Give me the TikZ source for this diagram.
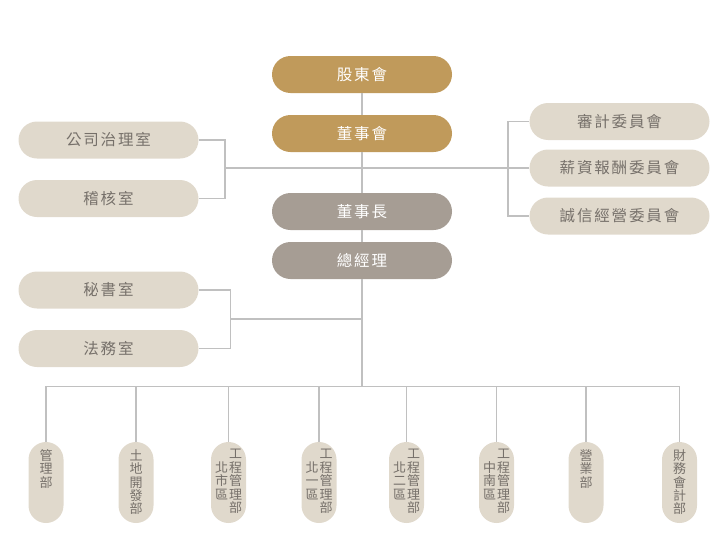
\documentclass[tikz,border=0pt]{standalone}
\usepackage{fontspec}
\setmainfont{Noto Sans CJK TC}
\newfontfamily\cjkwide[LetterSpace=12]{Noto Sans CJK TC}

\definecolor{gold}{RGB}{192,154,91}
\definecolor{taupe}{RGB}{166,157,148}
\definecolor{beige}{RGB}{224,217,204}
\definecolor{inkgray}{RGB}{118,112,106}
\definecolor{linegray}{RGB}{192,192,192}

\newcommand{\vone}[1]{\parbox[c][66pt][t]{34pt}{\centering #1}}
\newcommand{\vtwo}[2]{\parbox[c][66pt][t]{34pt}{\centering
  \parbox[t]{13pt}{\centering\mbox{}\\#2}\hspace{1pt}\parbox[t]{13pt}{\centering #1}}}

\tikzset{
  box/.style={rounded corners=18.5pt, minimum width=180pt, minimum height=37pt,
    inner sep=0pt, font=\cjkwide\fontsize{15.5}{18}\selectfont},
  topbox/.style={box, fill=gold, text=white},
  headbox/.style={box, fill=taupe, text=white},
  sidebox/.style={box, fill=beige, text=inkgray},
  dept/.style={rounded corners=17.5pt, minimum width=35pt, minimum height=81pt,
    inner sep=0pt, fill=beige, text=inkgray, font=\fontsize{13}{13.4}\selectfont},
  link/.style={draw=linegray, line width=1.2pt}
}

\begin{document}
\begin{tikzpicture}[x=1pt,y=-1pt]
  \useasboundingbox (0,0) rectangle (726,557);

  \node[topbox] (sh) at (362,74.5) {股東會};
  \node[topbox] (bd) at (362,133.5) {董事會};
  \node[headbox] (chair) at (362,211.5) {董事長};
  \node[headbox] (gm) at (362,260.5) {總經理};

  \node[sidebox] (gov) at (108.5,140) {公司治理室};
  \node[sidebox] (audit) at (108.5,198.5) {稽核室};
  \node[sidebox] (sec) at (108.5,290) {秘書室};
  \node[sidebox] (legal) at (108.5,348.5) {法務室};

  \node[sidebox] (acom) at (619.5,121.5) {審計委員會};
  \node[sidebox] (pay) at (619.5,168) {薪資報酬委員會};
  \node[sidebox] (integ) at (619.5,216) {誠信經營委員會};

  \foreach \i/\x/\txt in {
      1/46/{\vone{管\\理\\部}},
      2/136/{\vone{土\\地\\開\\發\\部}},
      3/228.5/{\vtwo{工\\程\\管\\理\\部}{北\\市\\區}},
      4/319/{\vtwo{工\\程\\管\\理\\部}{北\\一\\區}},
      5/406.5/{\vtwo{工\\程\\管\\理\\部}{北\\二\\區}},
      6/496.5/{\vtwo{工\\程\\管\\理\\部}{中\\南\\區}},
      7/586/{\vone{營\\業\\部}},
      8/679.5/{\vone{財\\務\\會\\計\\部}}}
    \node[dept] (d\i) at (\x,482.5) {\txt};

  \coordinate (lj) at (225,168);
  \coordinate (rj) at (508,168);
  \coordinate (sj) at (230.5,319);
  \coordinate (sm) at (362,319);
  \coordinate (bus) at (362,386.5);

  \draw[link] (sh) -- (bd);
  \draw[link] (bd) -- (chair);
  \draw[link] (chair) -- (gm);
  \draw[link] (gm) -- (bus);

  \draw[link] (gov) -| (lj) |- (audit);
  \draw[link] (lj) -- (rj);
  \draw[link] (acom) -| (rj) |- (integ);
  \draw[link] (pay) -- (rj);

  \draw[link] (sec) -| (sj) |- (legal);
  \draw[link] (sj) -- (sm);

  \foreach \i in {1,...,8}
    \draw[link] (d\i) |- (bus);
\end{tikzpicture}
\end{document}
